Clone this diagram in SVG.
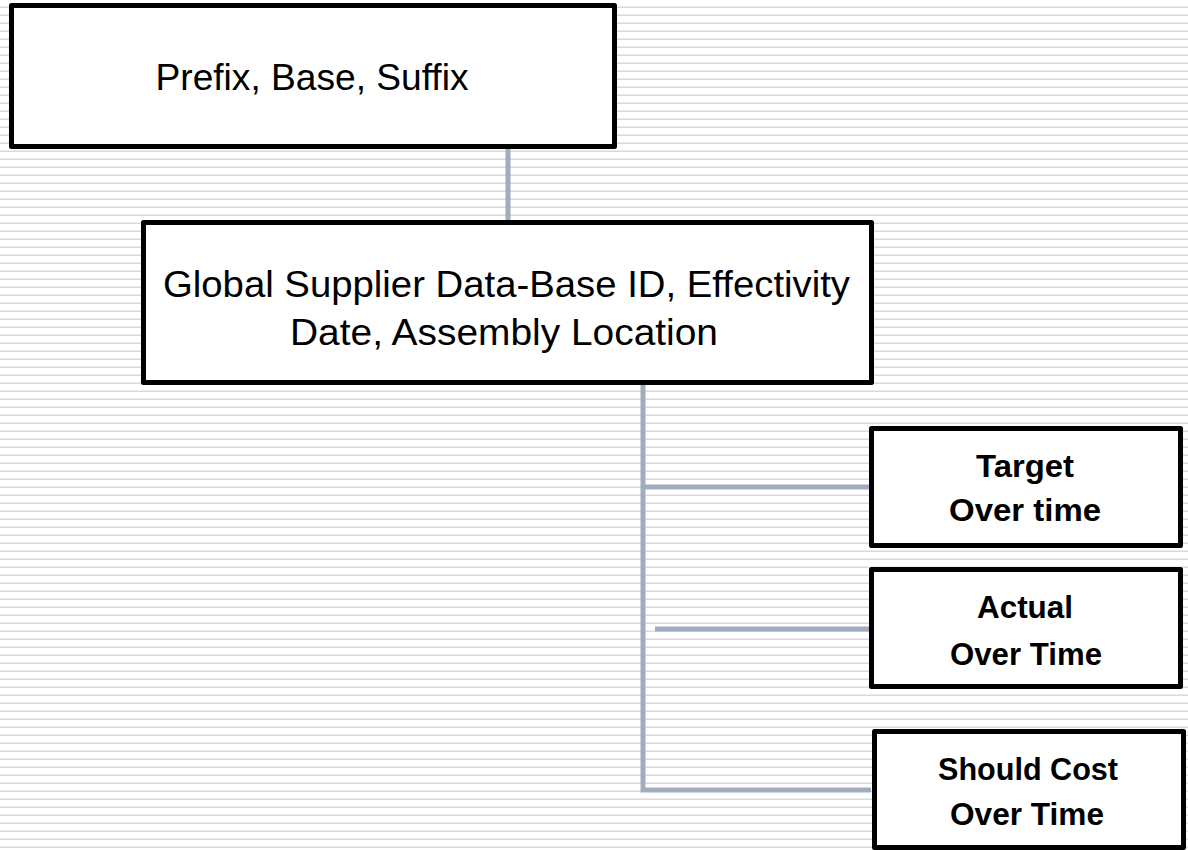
<svg xmlns="http://www.w3.org/2000/svg" width="1188" height="850" viewBox="0 0 1188 850">
<defs>
<pattern id="stripes" patternUnits="userSpaceOnUse" x="0" y="0" width="8" height="8">
<rect x="0" y="6.5" width="8" height="2" fill="#dadada"/>
</pattern>
</defs>
<style>
.box{fill:#ffffff;stroke:#000000;stroke-width:5;stroke-linejoin:round}
.conn{stroke:#9fadbd;stroke-width:5;fill:none}
.reg{font-family:"Liberation Sans",Arial,sans-serif;font-size:37px;fill:#000;text-anchor:middle}
.bold{font-family:"Liberation Sans",Arial,sans-serif;font-size:31px;font-weight:bold;fill:#000;text-anchor:middle}
</style>
<rect x="0" y="0" width="1188" height="850" fill="#ffffff"/>
<rect x="0" y="0" width="1188" height="850" fill="url(#stripes)"/>
<g id="connectors">
<line class="conn" x1="508" y1="149" x2="508" y2="221"/>
<polyline class="conn" points="643,385 643,790 871,790"/>
<line class="conn" x1="643" y1="487" x2="871" y2="487"/>
<line class="conn" x1="655" y1="629" x2="881" y2="629"/>
</g>
<g id="node-prefix">
<rect class="box" x="11.5" y="5.5" width="603" height="141"/>
<text class="reg" x="312" y="90" textLength="313" lengthAdjust="spacingAndGlyphs">Prefix, Base, Suffix</text>
</g>
<g id="node-global">
<rect class="box" x="143.5" y="222.5" width="728" height="160"/>
<text class="reg" x="506.5" y="297" textLength="687" lengthAdjust="spacingAndGlyphs">Global Supplier Data-Base ID, Effectivity</text>
<text class="reg" x="504" y="345" textLength="428" lengthAdjust="spacingAndGlyphs">Date, Assembly Location</text>
</g>
<g id="node-target">
<rect class="box" x="871.5" y="428.5" width="309" height="117"/>
<text class="bold" x="1025" y="477" textLength="98" lengthAdjust="spacingAndGlyphs">Target</text>
<text class="bold" x="1025" y="521" textLength="152" lengthAdjust="spacingAndGlyphs">Over time</text>
</g>
<g id="node-actual">
<rect class="box" x="871.5" y="569.5" width="309" height="117"/>
<text class="bold" x="1025" y="618" textLength="96" lengthAdjust="spacingAndGlyphs">Actual</text>
<text class="bold" x="1026" y="665" textLength="152" lengthAdjust="spacingAndGlyphs">Over Time</text>
</g>
<g id="node-should">
<rect class="box" x="874.5" y="731.5" width="309" height="116"/>
<text class="bold" x="1028" y="780" textLength="180" lengthAdjust="spacingAndGlyphs">Should Cost</text>
<text class="bold" x="1027" y="825" textLength="154" lengthAdjust="spacingAndGlyphs">Over Time</text>
</g>
</svg>
